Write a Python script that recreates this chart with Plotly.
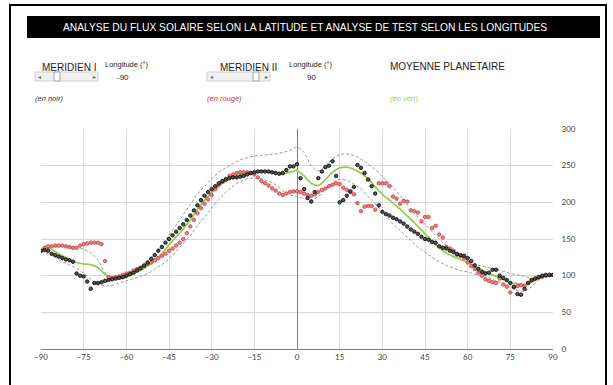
import numpy as np
import plotly.graph_objects as go

# latitudes (deg) of the two meridian profiles, 1.25 deg step
lat_pts = np.arange(-90, 90.01, 1.25)
# latitudes of the planetary mean and its envelope, 2.5 deg step
lat_mean = np.arange(-90, 90.01, 2.5)

# Meridien I (longitude -90), black points
meridien_1 = [
    134, 135, 134, 130, 128, 126, 124, 122,
    121, 119, 103, 100, 99, 92, 82, 90,
    90, 91, 93, 94, 95, 96, 97, 98,
    100, 102, 104, 107, 110, 114, 118, 123,
    128, 134, 139, 145, 150, 155, 160, 165,
    170, 176, 182, 189, 196, 203, 209, 214,
    218, 222, 226, 229, 231, 233, 234, 234,
    235, 236, 238, 240, 241, 242, 242, 242,
    242, 241, 240, 239, 240, 244, 249, 249,
    252, 233, 218, 206, 201, 214, 233, 242,
    248, 250, 256, 236, 200, 203, 209, 215,
    221, 251, 247, 240, 231, 222, 212, 196,
    187, 184, 182, 179, 177, 174, 171, 167,
    163, 160, 157, 153, 150, 149, 146, 145,
    140, 138, 137, 134, 132, 129, 128, 127,
    124, 120, 114, 109, 105, 103, 104, 108,
    108, 100, 97, 94, 90, 85, 75, 74,
    82, 90, 94, 96, 98, 100, 101, 101,
    101,
]

# Meridien II (longitude 90), red points
meridien_2 = [
    134, 138, 140, 140, 141, 141, 141, 140,
    139, 138, 138, 141, 143, 144, 145, 145,
    145, 143, 120, 98, 97, 98, 99, 101,
    103, 104, 107, 109, 111, 113, 116, 118,
    121, 124, 127, 130, 134, 137, 141, 145,
    150, 158, 167, 176, 185, 192, 198, 204,
    210, 218, 224, 228, 232, 236, 238, 240,
    241, 241, 241, 240, 238, 234, 229, 226,
    223, 219, 216, 212, 210, 212, 214, 215,
    215, 214, 212, 210, 209, 211, 214, 217,
    219, 222, 224, 226, 225, 220, 217, 214,
    211, 199, 188, 194, 195, 195, 190, 226,
    226, 226, 222, 208, 205, 198, 202, 201,
    189, 188, 186, 174, 180, 180, 165, 168,
    156, 152, 139, 137, 134, 130, 127, 124,
    118, 113, 109, 104, 100, 95, 93, 91,
    90, 96, 88, 85, 77, 84, 86, 87,
    86, 90, 94, 96, 98, 99, 100, 101,
    101,
]

# planetary mean (green) and dashed upper / lower curves
moyenne = [
    134, 138, 133, 127, 122, 118, 116, 115,
    111, 102, 97, 96, 98, 103, 107, 113,
    121, 130, 142, 153, 164, 176, 190, 203,
    213, 222, 229, 234, 237, 240, 242, 243,
    242, 240, 239, 241, 243, 236, 226, 223,
    231, 241, 247, 248, 245, 240, 232, 221,
    211, 203, 195, 186, 177, 167, 157, 147,
    138, 131, 126, 122, 118, 113, 108, 103,
    99, 95, 91, 89, 88, 91, 97, 100,
    100,
]
haut = [
    134, 138, 139, 140, 140, 139, 136, 131,
    122, 104, 96, 98, 102, 106, 112, 120,
    130, 142, 155, 169, 183, 197, 211, 222,
    232, 241, 247, 253, 258, 261, 263, 264,
    265, 266, 268, 271, 275, 268, 250, 243,
    250, 259, 265, 266, 264, 259, 252, 245,
    235, 226, 215, 203, 191, 180, 170, 160,
    150, 141, 133, 126, 120, 116, 113, 111,
    109, 106, 103, 101, 99, 96, 95, 98,
    100,
]
bas = [
    134, 130, 125, 119, 115, 110, 103, 95,
    88, 86, 87, 90, 93, 96, 99, 103,
    109, 115, 123, 133, 144, 155, 168, 180,
    192, 204, 214, 222, 228, 232, 233, 232,
    229, 224, 216, 210, 208, 205, 204, 208,
    218, 226, 231, 230, 225, 218, 208, 198,
    187, 176, 166, 157, 148, 139, 132, 125,
    119, 114, 110, 107, 105, 102, 99, 97,
    93, 89, 85, 80, 79, 85, 94, 99,
    100,
]

x_ticks = list(range(-90, 91, 15))
y_ticks = list(range(0, 301, 50))

W, H = 613, 385
L, R, T, B = 41, 60, 129, 36


def px(x):
    return (x - L) / (W - L - R)


def py(y):
    return (H - B - y) / (H - T - B)


fig = go.Figure()

for serie in (haut, bas):
    fig.add_trace(go.Scatter(x=lat_mean, y=serie, mode="lines",
                             line=dict(color="#9a9a9a", width=1, dash="3px,2px", shape="spline"),
                             hoverinfo="skip"))

fig.add_trace(go.Scatter(x=lat_mean, y=moyenne, mode="lines",
                         line=dict(color="#8fd14f", width=1.75, shape="spline")))

fig.add_trace(go.Scatter(x=lat_pts, y=meridien_2, mode="markers",
                         marker=dict(symbol="circle", size=3.5, color="#f08080",
                                     line=dict(color="#c83c3c", width=0.8))))
fig.add_trace(go.Scatter(x=lat_pts, y=meridien_1, mode="markers",
                         marker=dict(symbol="circle", size=3.5, color="#555555",
                                     line=dict(color="#000000", width=0.8))))

shapes = [
    # outer frame
    dict(type="rect", xref="paper", yref="paper", x0=px(10), x1=px(606), y0=py(400), y1=py(5),
         line=dict(color="black", width=2), layer="below"),
    # title bar
    dict(type="rect", xref="paper", yref="paper", x0=px(27), x1=px(600), y0=py(38), y1=py(16),
         fillcolor="black", line=dict(width=0)),
]
# scroll bars
for x0, x1, th in ((35, 98, 54), (207, 270, 253)):
    shapes.append(dict(type="rect", xref="paper", yref="paper", x0=px(x0), x1=px(x1),
                       y0=py(81), y1=py(72), fillcolor="#f0f0f0", line=dict(color="#d0d0d0", width=1)))
    shapes.append(dict(type="rect", xref="paper", yref="paper", x0=px(th), x1=px(th + 6),
                       y0=py(81), y1=py(72), fillcolor="#fafafa", line=dict(color="#a8a8a8", width=1)))

ann = []


def txt(x, y, s, size, color="#222222", anchor="left", font="Liberation Sans"):
    ann.append(dict(x=px(x), y=py(y), xref="paper", yref="paper", text=s, showarrow=False,
                    xanchor=anchor, yanchor="middle",
                    font=dict(family=font, size=size, color=color)))


txt(305, 27, "ANALYSE DU FLUX SOLAIRE SELON LA LATITUDE ET ANALYSE DE TEST SELON LES LONGITUDES",
    10.25, "white", "center")
txt(40, 68, "MERIDIEN I", 10)
txt(103, 64, "Longitude (°)", 7.5)
txt(123, 77, "-90", 8, anchor="center")
txt(218, 68, "MERIDIEN II", 10)
txt(287, 64, "Longitude (°)", 7.5)
txt(311, 77, "90", 8, anchor="center")
txt(388, 66, "MOYENNE PLANETAIRE", 10)
txt(33, 98, "<i>(en noir)</i>", 7.5, "#333333")
txt(205, 98, "<i>(en rouge)</i>", 7.5, "#e03030")
txt(388, 98, "<i>(en vert)</i>", 7.5, "#92d050")
for xa, s in ((39, "◂"), (94, "▸"), (211, "◂"), (266, "▸")):
    txt(xa, 76.5, s, 6, "#666666", "center")

fig.update_layout(
    width=W, height=H,
    margin=dict(l=L, r=R, t=T, b=B, pad=0),
    paper_bgcolor="white", plot_bgcolor="white",
    showlegend=False,
    shapes=shapes, annotations=ann,
    font=dict(family="Lato", size=8, color="#404040"),
)
fig.update_xaxes(range=[-90, 90], tickvals=x_ticks, showgrid=True, gridcolor="#d9d9d9",
                 gridwidth=1, zeroline=True, zerolinecolor="#7f7f7f", zerolinewidth=1,
                 showline=True, linecolor="#7f7f7f", ticks="", ticklen=0)
fig.update_yaxes(range=[0, 300], tickvals=y_ticks, side="right", showgrid=True,
                 gridcolor="#d9d9d9", gridwidth=1, zeroline=False, showline=False,
                 ticks="outside", ticklen=6, tickcolor="white")

# the page is photographed at the window size: drop the default body margin
fig.write_html("out.html", config={"displayModeBar": False},
               post_script="document.body.style.margin='0';document.body.style.overflow='hidden';")
